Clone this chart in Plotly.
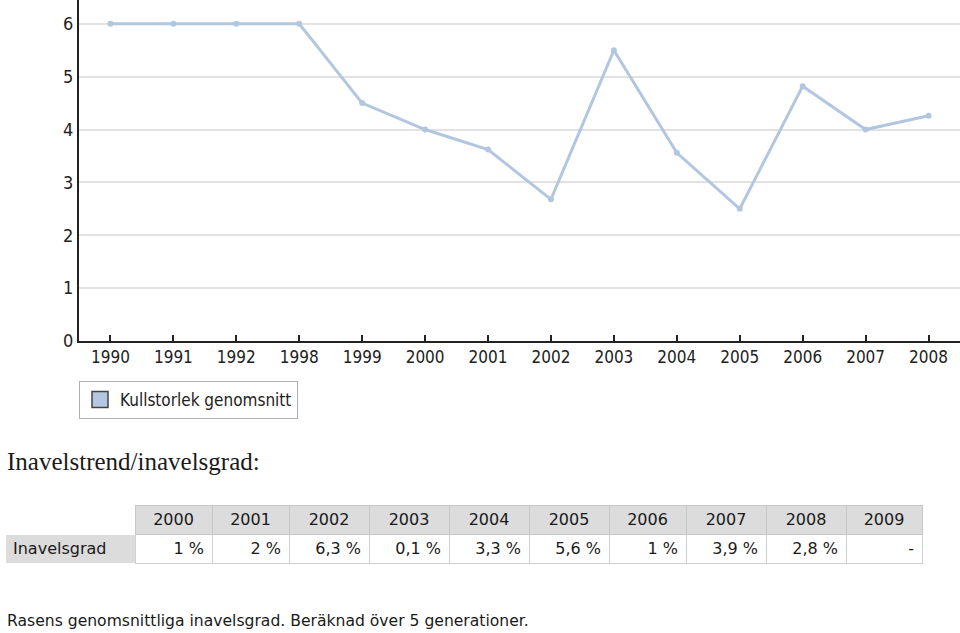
import plotly.graph_objects as go

W, H = 960, 633


def px(x):
    return x / W


def py(y):
    return 1 - y / H


# Chart data
years = ["1990", "1991", "1992", "1998", "1999", "2000", "2001", "2002",
         "2003", "2004", "2005", "2006", "2007", "2008"]
litter_size = [6, 6, 6, 6, 4.5, 4.0, 3.62, 2.68, 5.5, 3.56, 2.5, 4.82, 4.0, 4.26]
series_name = "Kullstorlek genomsnitt"

# Table data
table_years = ["2000", "2001", "2002", "2003", "2004", "2005", "2006", "2007", "2008", "2009"]
table_label = "Inavelsgrad"
inbreeding = ["1 %", "2 %", "6,3 %", "0,1 %", "3,3 %", "5,6 %", "1 %", "3,9 %", "2,8 %", "-"]

title_text = "Inavelstrend/inavelsgrad:"
footnote = "Rasens genomsnittliga inavelsgrad. Beräknad över 5 generationer."

line_color = "#b3c6e0"
narrow = "DejaVu Sans Condensed, sans-serif"

fig = go.Figure()
fig.add_trace(go.Scatter(
    x=years, y=litter_size, mode="lines+markers",
    line=dict(color=line_color, width=3),
    marker=dict(color=line_color, size=6),
    showlegend=False, hoverinfo="x+y",
))
# legend entry (square swatch)
fig.add_trace(go.Scatter(
    x=[None], y=[None], mode="markers", name=series_name,
    marker=dict(symbol="square", size=16, color="#b4c6e0",
                line=dict(color="#444444", width=1.5)),
))

# table
table_font = dict(family="DejaVu Sans", size=16, color="#1a1a1a")
header_fill = ["white"] + ["#dcdcdc"] * len(table_years)
header_line = ["white"] + ["#c8c8c8"] * len(table_years)
cell_fill = [["#dcdcdc"]] + [["white"]] * len(table_years)
fig.add_trace(go.Table(
    domain=dict(x=[px(5), px(922)], y=[py(566), py(505)]),
    columnwidth=[130, 77, 77, 80, 80, 80, 80, 77, 80, 80, 76],
    header=dict(values=[""] + table_years, fill_color=header_fill,
                line=dict(color=header_line, width=1),
                align="center", font=table_font, height=29),
    cells=dict(values=[[table_label]] + [[v] for v in inbreeding],
               fill=dict(color=cell_fill),
               line=dict(color=["white"] + ["#d0d0d0"] * len(table_years), width=1),
               align=["left"] + ["right"] * len(table_years),
               font=table_font, height=29),
))

fig.update_layout(
    width=W, height=H,
    margin=dict(l=0, r=0, t=0, b=0),
    paper_bgcolor="white", plot_bgcolor="white",
    xaxis=dict(domain=[px(79), 1], type="category", range=[-0.5, 13.5],
               showline=True, linecolor="#222222", linewidth=2,
               ticks="inside", ticklen=6, tickcolor="#222222", tickwidth=1.5,
               showgrid=False, automargin=False, fixedrange=True,
               tickfont=dict(family=narrow, size=17, color="#222222")),
    yaxis=dict(domain=[py(341), 1], range=[0, 6.45], tickvals=[0, 1, 2, 3, 4, 5, 6],
               showline=True, linecolor="#222222", linewidth=2,
               gridcolor="#e2e2e2", gridwidth=2, zeroline=False,
               ticks="", ticklabelstandoff=0, automargin=False, fixedrange=True,
               tickfont=dict(family=narrow, size=18, color="#222222")),
    legend=dict(x=px(79), y=py(381), xanchor="left", yanchor="top",
                bordercolor="#b0b0b0", borderwidth=1, bgcolor="white",
                font=dict(family=narrow, size=17, color="#222222"),
                itemsizing="trace", tracegroupgap=0, itemwidth=30),
    annotations=[
        dict(text=title_text, x=px(5), y=py(461), xref="paper", yref="paper",
             xanchor="left", yanchor="middle", showarrow=False,
             font=dict(family="Liberation Serif", size=25, color="#1a1a1a")),
        dict(text=footnote, x=px(5), y=py(621), xref="paper", yref="paper",
             xanchor="left", yanchor="middle", showarrow=False,
             font=dict(family="DejaVu Sans", size=15.6, color="#1a1a1a")),
    ],
)

fig.write_html("out.html", config={"displayModeBar": False},
               post_script="document.body.style.margin='0';")
